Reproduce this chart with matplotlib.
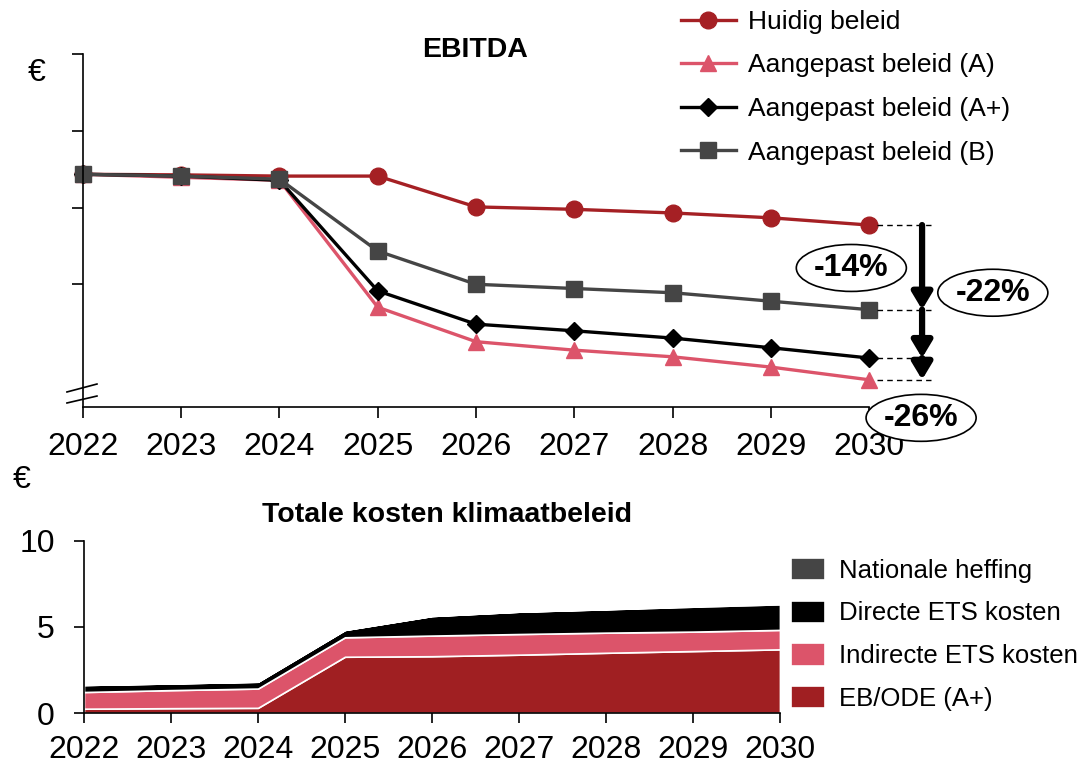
import numpy as np
import matplotlib.pyplot as plt
from matplotlib.lines import Line2D

plt.rcParams['font.family'] = ['Liberation Sans', 'DejaVu Sans']

years = [2022, 2023, 2024, 2025, 2026, 2027, 2028, 2029, 2030]

# EBITDA index (huidig beleid 2030 = 100)
huidig = [108.4, 108.3, 108.1, 108.1, 103.0, 102.6, 102.0, 101.2, 100.0]
aangepast_a = [108.4, 107.9, 107.4, 86.4, 80.7, 79.3, 78.2, 76.5, 74.4]
aangepast_aplus = [108.4, 108.1, 107.4, 89.1, 83.6, 82.5, 81.3, 79.7, 78.0]
aangepast_b = [108.4, 108.1, 107.6, 95.7, 90.2, 89.5, 88.8, 87.4, 86.0]

# totale kosten klimaatbeleid, gestapeld
eb_ode = [0.25, 0.28, 0.30, 3.27, 3.30, 3.39, 3.50, 3.60, 3.70]
indirect_ets = [0.97, 1.05, 1.12, 1.13, 1.20, 1.20, 1.17, 1.13, 1.13]
direct_ets = [0.41, 0.39, 0.40, 0.43, 1.14, 1.30, 1.36, 1.45, 1.49]
nationale_heffing = [0.0, 0.0, 0.0, 0.0, 0.0, 0.0, 0.01, 0.03, 0.08]

RED = '#a52024'
PINK = '#dc546a'
GREY = '#454545'

fig = plt.figure(figsize=(10.89, 7.67), dpi=100)

# ---- EBITDA ----
ax = fig.add_axes([0.0762, 0.4694, 0.7218, 0.4602])
series = [
    (huidig, RED, 'o', 12, 'Huidig beleid'),
    (aangepast_a, PINK, '^', 12, 'Aangepast beleid (A)'),
    (aangepast_aplus, 'black', 'D', 9, 'Aangepast beleid (A+)'),
    (aangepast_b, GREY, 's', 12, 'Aangepast beleid (B)'),
]
for vals, c, m, ms, lab in series:
    ax.plot(years, vals, color=c, marker=m, ms=ms, lw=2.4, label=lab, clip_on=False)

ax.set_xlim(2022, 2030)
ax.set_ylim(69.9, 128.3)
ax.set_xticks(years)
ax.set_yticks(90.2 + 12.7 * np.arange(4))
ax.set_yticklabels([])
for s in ['top', 'right']:
    ax.spines[s].set_visible(False)
for s in ['left', 'bottom']:
    ax.spines[s].set_linewidth(1.2)
ax.tick_params(axis='both', length=8, width=1.2, labelsize=23)
ax.tick_params(axis='x', pad=10)

# axis break on the y axis
for y0, y1 in [(0.0425, 0.065), (0.0113, 0.031)]:
    ax.add_line(Line2D([-0.0204, 0.0178], [y0, y1], transform=ax.transAxes,
                       color='black', lw=1.2, clip_on=False))

# dashed guides and drop arrows at 2030
x_arrow = 2030.54
for vals in [huidig, aangepast_b, aangepast_aplus, aangepast_a]:
    ax.plot([2030.08, 2030.63], [vals[-1], vals[-1]], color='black', lw=1,
            ls=(0, (4, 3)), clip_on=False)
levels = [huidig[-1], aangepast_b[-1], aangepast_aplus[-1], aangepast_a[-1]]
for top, bot in zip(levels[:-1], levels[1:]):
    ax.annotate('', xy=(x_arrow, bot), xytext=(x_arrow, top), annotation_clip=False,
                arrowprops=dict(arrowstyle='-|>,head_length=0.5,head_width=0.3',
                                color='black', lw=4.5, mutation_scale=20,
                                shrinkA=0, shrinkB=0))

# percentage labels
base = huidig[-1]
labels = [
    (aangepast_b, 2029.82, 92.9),
    (aangepast_aplus, 2031.26, 88.8),
    (aangepast_a, 2030.53, 68.1),
]
for vals, lx, ly in labels:
    pct = (vals[-1] - base) / base * 100
    ax.text(lx, ly, f'{pct:.0f}%', fontsize=23, fontweight='bold', ha='center',
            va='center', clip_on=False, zorder=5,
            bbox=dict(boxstyle='ellipse,pad=0.05', fc='white', ec='black', lw=1.2))

ax.legend(loc='upper left', bbox_to_anchor=(0.625, 0.987), bbox_transform=fig.transFigure,
          frameon=False, fontsize=19, handlelength=2.1, handletextpad=0.45,
          labelspacing=0.74, borderpad=0, borderaxespad=0)

fig.text(475 / 1089, 1 - 50 / 767, 'EBITDA', fontsize=20.5, fontweight='bold',
         ha='center', va='center')
fig.text(37 / 1089, 1 - 73 / 767, '€', fontsize=23, ha='center', va='center')

# ---- Totale kosten klimaatbeleid ----
bx = fig.add_axes([0.0771, 0.0704, 0.6391, 0.2243])
bx.stackplot(years, eb_ode, indirect_ets, direct_ets, nationale_heffing,
             colors=['#a01f22', PINK, 'black', GREY],
             edgecolor='white', linewidth=1.2,
             labels=['EB/ODE (A+)', 'Indirecte ETS kosten',
                     'Directe ETS kosten', 'Nationale heffing'])
bx.set_xlim(2022, 2030)
bx.set_ylim(0, 10)
bx.set_xticks(years)
bx.set_yticks([0, 5, 10])
for s in ['top', 'right']:
    bx.spines[s].set_visible(False)
for s in ['left', 'bottom']:
    bx.spines[s].set_linewidth(1.2)
bx.tick_params(axis='both', length=7, width=1.2, labelsize=23)
bx.tick_params(axis='x', pad=9)
bx.tick_params(axis='y', pad=14)

handles, labs = bx.get_legend_handles_labels()
bx.legend(handles[::-1], labs[::-1], loc='upper left', bbox_to_anchor=(0.726, 0.273),
          bbox_transform=fig.transFigure, frameon=False, fontsize=18.5,
          handlelength=1.35, handleheight=0.95, handletextpad=0.55,
          labelspacing=0.7, borderpad=0, borderaxespad=0)

fig.text(447 / 1089, 1 - 515 / 767, 'Totale kosten klimaatbeleid', fontsize=20.5,
         fontweight='bold', ha='center', va='center')
fig.text(22 / 1089, 1 - 480 / 767, '€', fontsize=23, ha='center', va='center')

fig.savefig('out.png', dpi=100)
